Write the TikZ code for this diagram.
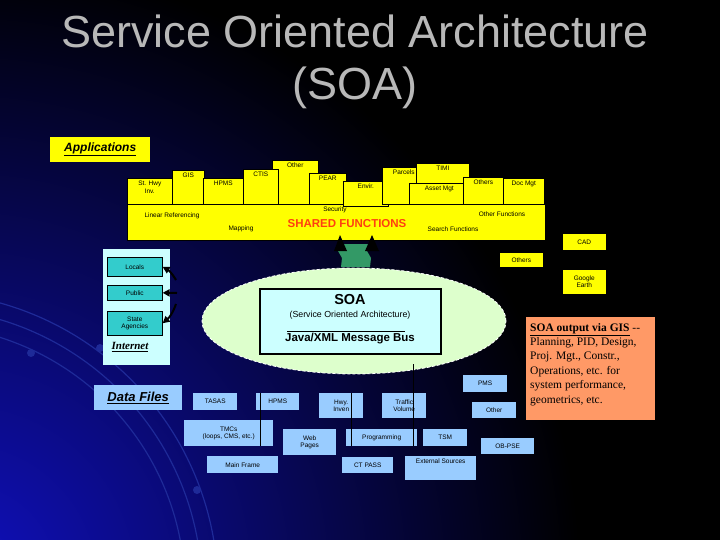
\documentclass[tikz,border=0pt]{standalone}
\usepackage{fontspec}
\setmainfont{Liberation Sans}
\newfontfamily\serifF{Liberation Serif}
\usetikzlibrary{arrows.meta,shapes.geometric}
\definecolor{ttl}{HTML}{B8B8B8}
\definecolor{yel}{HTML}{FFFF00}
\definecolor{lblue}{HTML}{99CCFF}
\definecolor{teal2}{HTML}{33CCCC}
\definecolor{cyanp}{HTML}{CCFFFF}
\definecolor{orng}{HTML}{FF9966}
\definecolor{ellg}{HTML}{DDFFCC}
\definecolor{arrg}{HTML}{339966}
\definecolor{redf}{HTML}{FF4010}
\definecolor{bgblue}{HTML}{1010C0}
\definecolor{arcblue}{HTML}{1E2A98}
\tikzset{
 lbl/.style={font=\fontsize{6.5}{7.5}\selectfont, align=center, inner sep=1.5pt, text=black},
 ybx/.style={draw=black, line width=0.6pt, fill=yel, inner sep=0pt},
 bbx/.style={fill=lblue, inner sep=0pt},
 tbx/.style={draw=black, line width=0.6pt, fill=teal2, inner sep=0pt},
 vline/.style={draw=black, line width=0.8pt},
 inarrow/.style={-{Triangle[length=7pt,width=7pt]}, line width=2pt, black},
}
\newcommand\tb[7]{\node[#6, anchor=north west, minimum width=#4pt, minimum height=#5pt, label={[lbl,inner sep=3pt,anchor=north]north:#7}] (#1) at (#2,#3) {};}
\newcommand\cb[7]{\node[lbl, #6, anchor=north west, minimum width=#4pt, minimum height=#5pt] (#1) at (#2,#3) {#7};}
\begin{document}
\begin{tikzpicture}[x=1pt,y=-1pt]
\useasboundingbox (0,0) rectangle (720,540);
\fill[black] (0,0) rectangle (720,540);
\begin{scope}
\clip (0,0) rectangle (720,540);
\shade[inner color=bgblue, outer color=black] (-40,580) circle[radius=620pt];
\foreach \r in {265,282,298}{
  \draw[arcblue, line width=1.2pt] ({-80+\r*cos(95)},{590-\r*sin(95)}) arc[start angle=95, end angle=-15, radius=\r pt];
}
\fill[arcblue] (31,353) circle[radius=4pt];
\fill[arcblue] (100,348) circle[radius=4pt];
\fill[arcblue] (197,490) circle[radius=4pt];
\end{scope}

% title
\node[font=\fontsize{45}{50}\selectfont, text=ttl, anchor=base] (t1) at (355,48) {Service Oriented Architecture};
\node[font=\fontsize{45}{50}\selectfont, text=ttl, anchor=base] (t2) at (355,100) {(SOA)};

% applications
\node[fill=yel, anchor=north west, minimum width=100pt, minimum height=25pt, inner sep=0, font=\bfseries\itshape\fontsize{12}{13}\selectfont] (apps) at (50,137) {\underline{Applications}};

\node[ybx, anchor=north west, minimum width=418pt, minimum height=36pt] (shared) at (127,204) {};
\tb{other}{272}{160}{46}{44}{ybx}{Other}
\tb{sthwy}{127}{178}{45}{26}{ybx}{St. Hwy\\Inv.}
\tb{gis}{172}{170}{32}{34}{ybx}{GIS}
\tb{hpms}{203}{178}{40}{26}{ybx}{HPMS}
\tb{ctis}{243}{169}{35}{35}{ybx}{CTIS}
\tb{pear}{309}{173}{37}{31}{ybx}{PEAR}
\tb{envir}{343}{181}{45}{25}{ybx}{Envir.}
\tb{parcels}{382}{167}{43}{37}{ybx}{Parcels}
\tb{timi}{416}{163}{53}{41}{ybx}{TIMI}
\tb{asset}{409}{183}{60}{21}{ybx}{Asset Mgt}
\tb{others1}{463}{177}{40}{27}{ybx}{Others}
\tb{docmgt}{503}{178}{41}{26}{ybx}{Doc Mgt}

\node[lbl] (linref) at (172,216) {Linear Referencing};
\node[lbl] (mapping) at (241,229) {Mapping};
\node[lbl] (security) at (335,210) {Security};
\node[font=\bfseries\fontsize{11.5}{12}\selectfont, text=redf, inner sep=0] (sf) at (347,224) {SHARED FUNCTIONS};
\node[lbl] (otherf) at (502,214) {Other Functions};
\node[lbl] (searchf) at (453,229) {Search Functions};

\cb{cad}{562}{233}{44}{17}{ybx}{CAD}
\cb{others2}{499}{252}{44}{15}{ybx}{Others}
\cb{google}{562}{269}{44}{25}{ybx}{Google\\Earth}

% internet panel
\node[fill=cyanp, anchor=north west, minimum width=67pt, minimum height=116pt, inner sep=0] (inet) at (103,249) {};
\cb{locals}{107}{257}{55}{19}{tbx}{Locals}
\cb{public}{107}{285}{55}{15}{tbx}{Public}
\cb{state}{107}{311}{55}{24}{tbx}{State\\Agencies}
\node[font=\serifF\bfseries\itshape\fontsize{11}{12}\selectfont, inner sep=0] (inettxt) at (130,347) {\underline{Internet}};
\coordinate (a1) at (176,280);
\coordinate (a2) at (177,293);
\coordinate (a3) at (176,304);
\draw[inarrow] (a1) to[bend right=15] (locals.east);
\draw[inarrow] (a2) -- (public.east);
\draw[inarrow] (a3) to[bend left=15] (state.east);

% SOA ellipse
\node[ellipse, minimum width=304pt, minimum height=106pt, fill=ellg, draw=white, densely dashed, line width=0.8pt, inner sep=0] (ell) at (354,321) {};
\node[fill=cyanp, draw=black, line width=2pt, anchor=north west, minimum width=181pt, minimum height=65pt, inner sep=0] (soa) at (259,288) {};
\node[font=\bfseries\fontsize{14.5}{15}\selectfont, inner sep=0] (soat) at (350,300) {SOA};
\node[font=\fontsize{8.8}{10}\selectfont, inner sep=0] (soasub) at (350,315) {(Service Oriented Architecture)};
\coordinate (ul1) at (287,331);
\coordinate (ul2) at (405,331);
\draw[black, line width=0.6pt] (ul1) -- (ul2);
\node[font=\bfseries\fontsize{11.5}{12}\selectfont, inner sep=0] (bus) at (350,339) {Java/XML Message Bus};

% green arrow
\fill[arrg] (341,244) -- (370,244) -- (367,251) -- (371,258) -- (370,267) -- (341,267) -- (342,258) -- (338,251) -- cycle;
\fill[black] (340,235) -- (334,251) -- (347,251) -- cycle;
\fill[black] (372,235) -- (365,251) -- (379,251) -- cycle;

% output box
\node[fill=orng, anchor=north west, minimum width=129pt, minimum height=103pt, inner sep=0] (out) at (526,317) {};
\node[anchor=north west, font=\serifF\fontsize{11.5}{14.4}\selectfont, align=left, inner sep=0] (outtxt) at (530,323) {\textbf{\underline{SOA output via GIS}} --\\Planning, PID, Design,\\Proj. Mgt., Constr.,\\Operations, etc. for\\system performance,\\geometrics, etc.};

% data files
\cb{datafiles}{94}{385}{88}{25}{bbx}{\fontsize{13}{14}\selectfont\bfseries\itshape\underline{Data Files}}
\cb{tasas}{193}{393}{44}{17}{bbx}{TASAS}
\cb{hpms2}{256}{393}{43}{17}{bbx}{HPMS}
\cb{hwy}{319}{393}{44}{25}{bbx}{Hwy.\\Inven}
\cb{traffic}{382}{393}{44}{25}{bbx}{Traffic\\Volume}
\cb{tmcs}{184}{420}{89}{26}{bbx}{TMCs\\(loops, CMS, etc.)}
\cb{web}{283}{429}{53}{26}{bbx}{Web\\Pages}
\cb{prog}{346}{429}{71}{17}{bbx}{Programming}
\cb{tsm}{423}{429}{44}{17}{bbx}{TSM}
\cb{mainframe}{207}{456}{71}{17}{bbx}{Main Frame}
\cb{ctpass}{342}{457}{51}{16}{bbx}{CT PASS}
\tb{ext}{405}{456}{71}{24}{bbx}{External Sources}
\cb{pms}{463}{375}{44}{17}{bbx}{PMS}
\cb{otherd}{472}{402}{44}{16}{bbx}{Other}
\cb{obpse}{481}{438}{53}{16}{bbx}{OB-PSE}

\coordinate (v1a) at (260,393); \coordinate (v1b) at (260,446);
\coordinate (v2a) at (351,393); \coordinate (v2b) at (351,446);
\coordinate (v3a) at (413,364); \coordinate (v3b) at (413,446);
\draw[vline] (v1a) -- (v1b);
\draw[vline] (v2a) -- (v2b);
\draw[vline] (v3a) -- (v3b);
\end{tikzpicture}
\end{document}
